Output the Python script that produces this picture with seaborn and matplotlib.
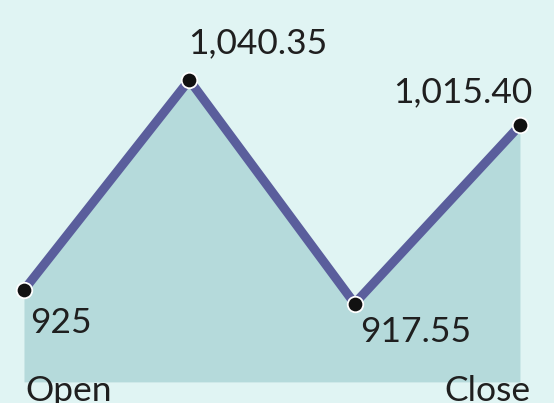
import matplotlib
matplotlib.use("Agg")
import matplotlib.pyplot as plt
import seaborn as sns
import pandas as pd

categories = ["Open", "High", "Low", "Close"]
values = [925.0, 1040.35, 917.55, 1015.40]
labels = ["925", "1,040.35", "917.55", "1,015.40"]
x_tick_labels = ["Open", "Close"]

BG = "#e0f4f3"
FILL = "#b5dadb"
LINE = "#5a5e9c"
TEXT = "#1f1f1f"

sns.set_theme(style="white")
plt.rcParams["font.family"] = ["Lato", "DejaVu Sans"]

df = pd.DataFrame({"idx": range(len(values)), "value": values, "cat": categories})

fig = plt.figure(figsize=(5.54, 4.03), dpi=100, facecolor=BG)
ax = fig.add_axes([0, 0, 1, 1])
ax.set_facecolor(BG)

ax.fill_between(df["idx"], df["value"], 874.5, color=FILL, lw=0, zorder=1)
sns.lineplot(data=df, x="idx", y="value", ax=ax, color=LINE, lw=6.5,
             zorder=2, solid_capstyle="butt")
ax.scatter(df["idx"], df["value"], s=125, color="#111111", edgecolor="white",
           linewidth=1.3, zorder=3)

px = 0.72
offsets = [(6, -43, "left"), (-1, 27, "left"), (6, -38, "left"), (12, 23, "right")]
for i, (v, lab) in enumerate(zip(values, labels)):
    dx, dy, ha = offsets[i]
    ax.annotate(lab, (i, v), xytext=(dx * px, dy * px), textcoords="offset points",
                ha=ha, va="baseline", fontsize=25.5, color=TEXT, zorder=4)

ax.set_xlim(-0.145, 3.206)
ax.set_ylim(862.9, 1084.3)
ax.axis("off")

fig.text(25 / 554, 2 / 403, x_tick_labels[0], ha="left", va="baseline",
         fontsize=25.5, color=TEXT)
fig.text(531 / 554, 2 / 403, x_tick_labels[1], ha="right", va="baseline",
         fontsize=25.5, color=TEXT)

fig.savefig("out.png", dpi=100, facecolor=BG)
